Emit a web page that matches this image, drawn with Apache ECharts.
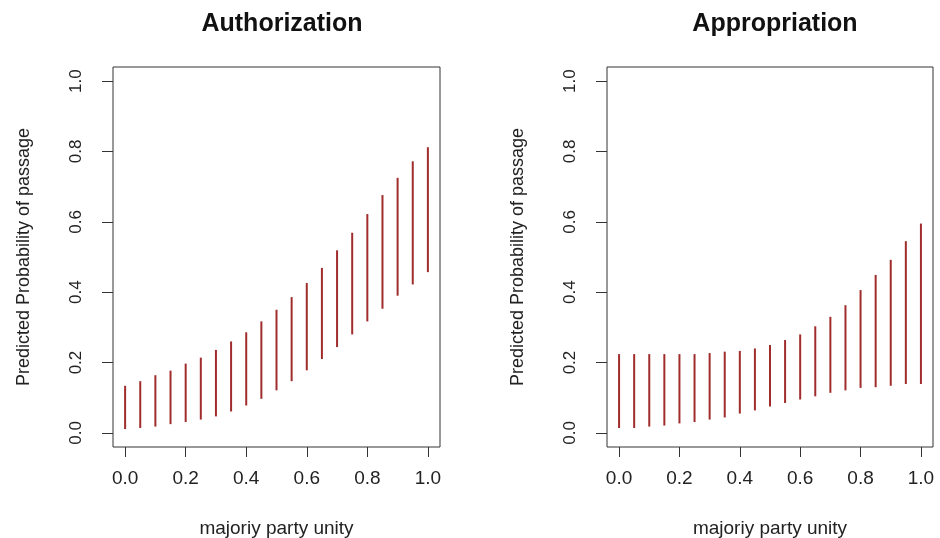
<!DOCTYPE html>
<html>
<head>
<meta charset="utf-8">
<script src="https://cdn.jsdelivr.net/npm/echarts@6/dist/echarts.min.js"></script>
<style>
  html, body { margin: 0; padding: 0; background: #fff; }
  #chart { width: 940px; height: 538px; }
</style>
</head>
<body>
<div id="chart"></div>
<script>
// majority party unity values (x positions of the segments)
const unity = [0, 0.05, 0.1, 0.15, 0.2, 0.25, 0.3, 0.35, 0.4, 0.45, 0.5,
               0.55, 0.6, 0.65, 0.7, 0.75, 0.8, 0.85, 0.9, 0.95, 1.0];

// Authorization: lower / upper bound of predicted probability
const authLow  = [0.011, 0.014, 0.018, 0.025, 0.031, 0.038, 0.047, 0.061, 0.078, 0.097, 0.121,
                  0.147, 0.178, 0.210, 0.244, 0.280, 0.317, 0.353, 0.390, 0.422, 0.457];
const authHigh = [0.134, 0.147, 0.164, 0.177, 0.197, 0.214, 0.236, 0.260, 0.286, 0.317, 0.350,
                  0.386, 0.426, 0.469, 0.519, 0.569, 0.622, 0.676, 0.725, 0.772, 0.812];

// Appropriation: lower / upper bound of predicted probability
const approLow  = [0.014, 0.014, 0.018, 0.021, 0.027, 0.031, 0.038, 0.044, 0.055, 0.064, 0.075,
                   0.085, 0.095, 0.104, 0.114, 0.121, 0.128, 0.130, 0.134, 0.139, 0.139];
const approHigh = [0.224, 0.224, 0.224, 0.224, 0.224, 0.224, 0.227, 0.231, 0.233, 0.240, 0.250,
                   0.264, 0.280, 0.303, 0.330, 0.363, 0.406, 0.449, 0.492, 0.545, 0.595];

const ticks = [0, 0.2, 0.4, 0.6, 0.8, 1.0];
const titles = ['Authorization', 'Appropriation'];

const segColor = '#a02c2c';
const txtColor = '#222';

function segRender(params, api) {
    const a = api.coord([api.value(0), api.value(1)]);
    const b = api.coord([api.value(0), api.value(2)]);
    return {
        type: 'line',
        shape: { x1: a[0], y1: a[1], x2: b[0], y2: b[1] },
        style: { stroke: segColor, lineWidth: 2 }
    };
}

function makeX(idx) {
    return {
        gridIndex: idx, type: 'value', min: -0.04, max: 1.04,
        name: 'majoriy party unity', nameLocation: 'middle', nameGap: 72,
        nameTextStyle: { color: txtColor, fontSize: 19, fontFamily: 'Liberation Sans' },
        axisLine: { show: false, onZero: false },
        splitLine: { show: false },
        axisTick: { show: true, customValues: ticks, length: 10, inside: false,
                    lineStyle: { color: '#333', width: 1 } },
        axisLabel: { customValues: ticks, margin: 22, color: txtColor, fontSize: 19,
                     fontFamily: 'Liberation Sans', formatter: v => v.toFixed(1) }
    };
}

function makeY(idx) {
    return {
        gridIndex: idx, type: 'value', min: -0.04, max: 1.04,
        name: 'Predicted Probability of passage', nameLocation: 'middle', nameGap: 80,
        nameTextStyle: { color: txtColor, fontSize: 18, fontFamily: 'Liberation Sans' },
        axisLine: { show: false, onZero: false },
        splitLine: { show: false },
        axisTick: { show: true, customValues: ticks, length: 11,
                    lineStyle: { color: '#333', width: 1 } },
        axisLabel: { customValues: ticks, rotate: 90, margin: 28, color: txtColor, fontSize: 17,
                     fontFamily: 'Liberation Sans', formatter: v => v.toFixed(1) }
    };
}

const chart = echarts.init(document.getElementById('chart'));

const option = {
    animation: false,
    backgroundColor: '#fff',
    title: [
        { text: titles[0], left: 277, top: 7, textAlign: 'center',
          textStyle: { fontSize: 25, fontWeight: 'bold', color: '#111', fontFamily: 'Liberation Sans' } },
        { text: titles[1], left: 770, top: 7, textAlign: 'center',
          textStyle: { fontSize: 25, fontWeight: 'bold', color: '#111', fontFamily: 'Liberation Sans' } }
    ],
    grid: [
        { left: 113, top: 67, width: 327, height: 380, show: true, outerBoundsMode: 'none',
          borderColor: '#333', borderWidth: 1, backgroundColor: 'transparent' },
        { left: 607, top: 67, width: 326, height: 380, show: true, outerBoundsMode: 'none',
          borderColor: '#333', borderWidth: 1, backgroundColor: 'transparent' }
    ],
    xAxis: [makeX(0), makeX(1)],
    yAxis: [makeY(0), makeY(1)],
    series: [
        { type: 'custom', xAxisIndex: 0, yAxisIndex: 0, renderItem: segRender,
          data: unity.map((x, i) => [x, authLow[i], authHigh[i]]) },
        { type: 'custom', xAxisIndex: 1, yAxisIndex: 1, renderItem: segRender,
          data: unity.map((x, i) => [x, approLow[i], approHigh[i]]) }
    ]
};
chart.setOption(option);
</script>
</body>
</html>
